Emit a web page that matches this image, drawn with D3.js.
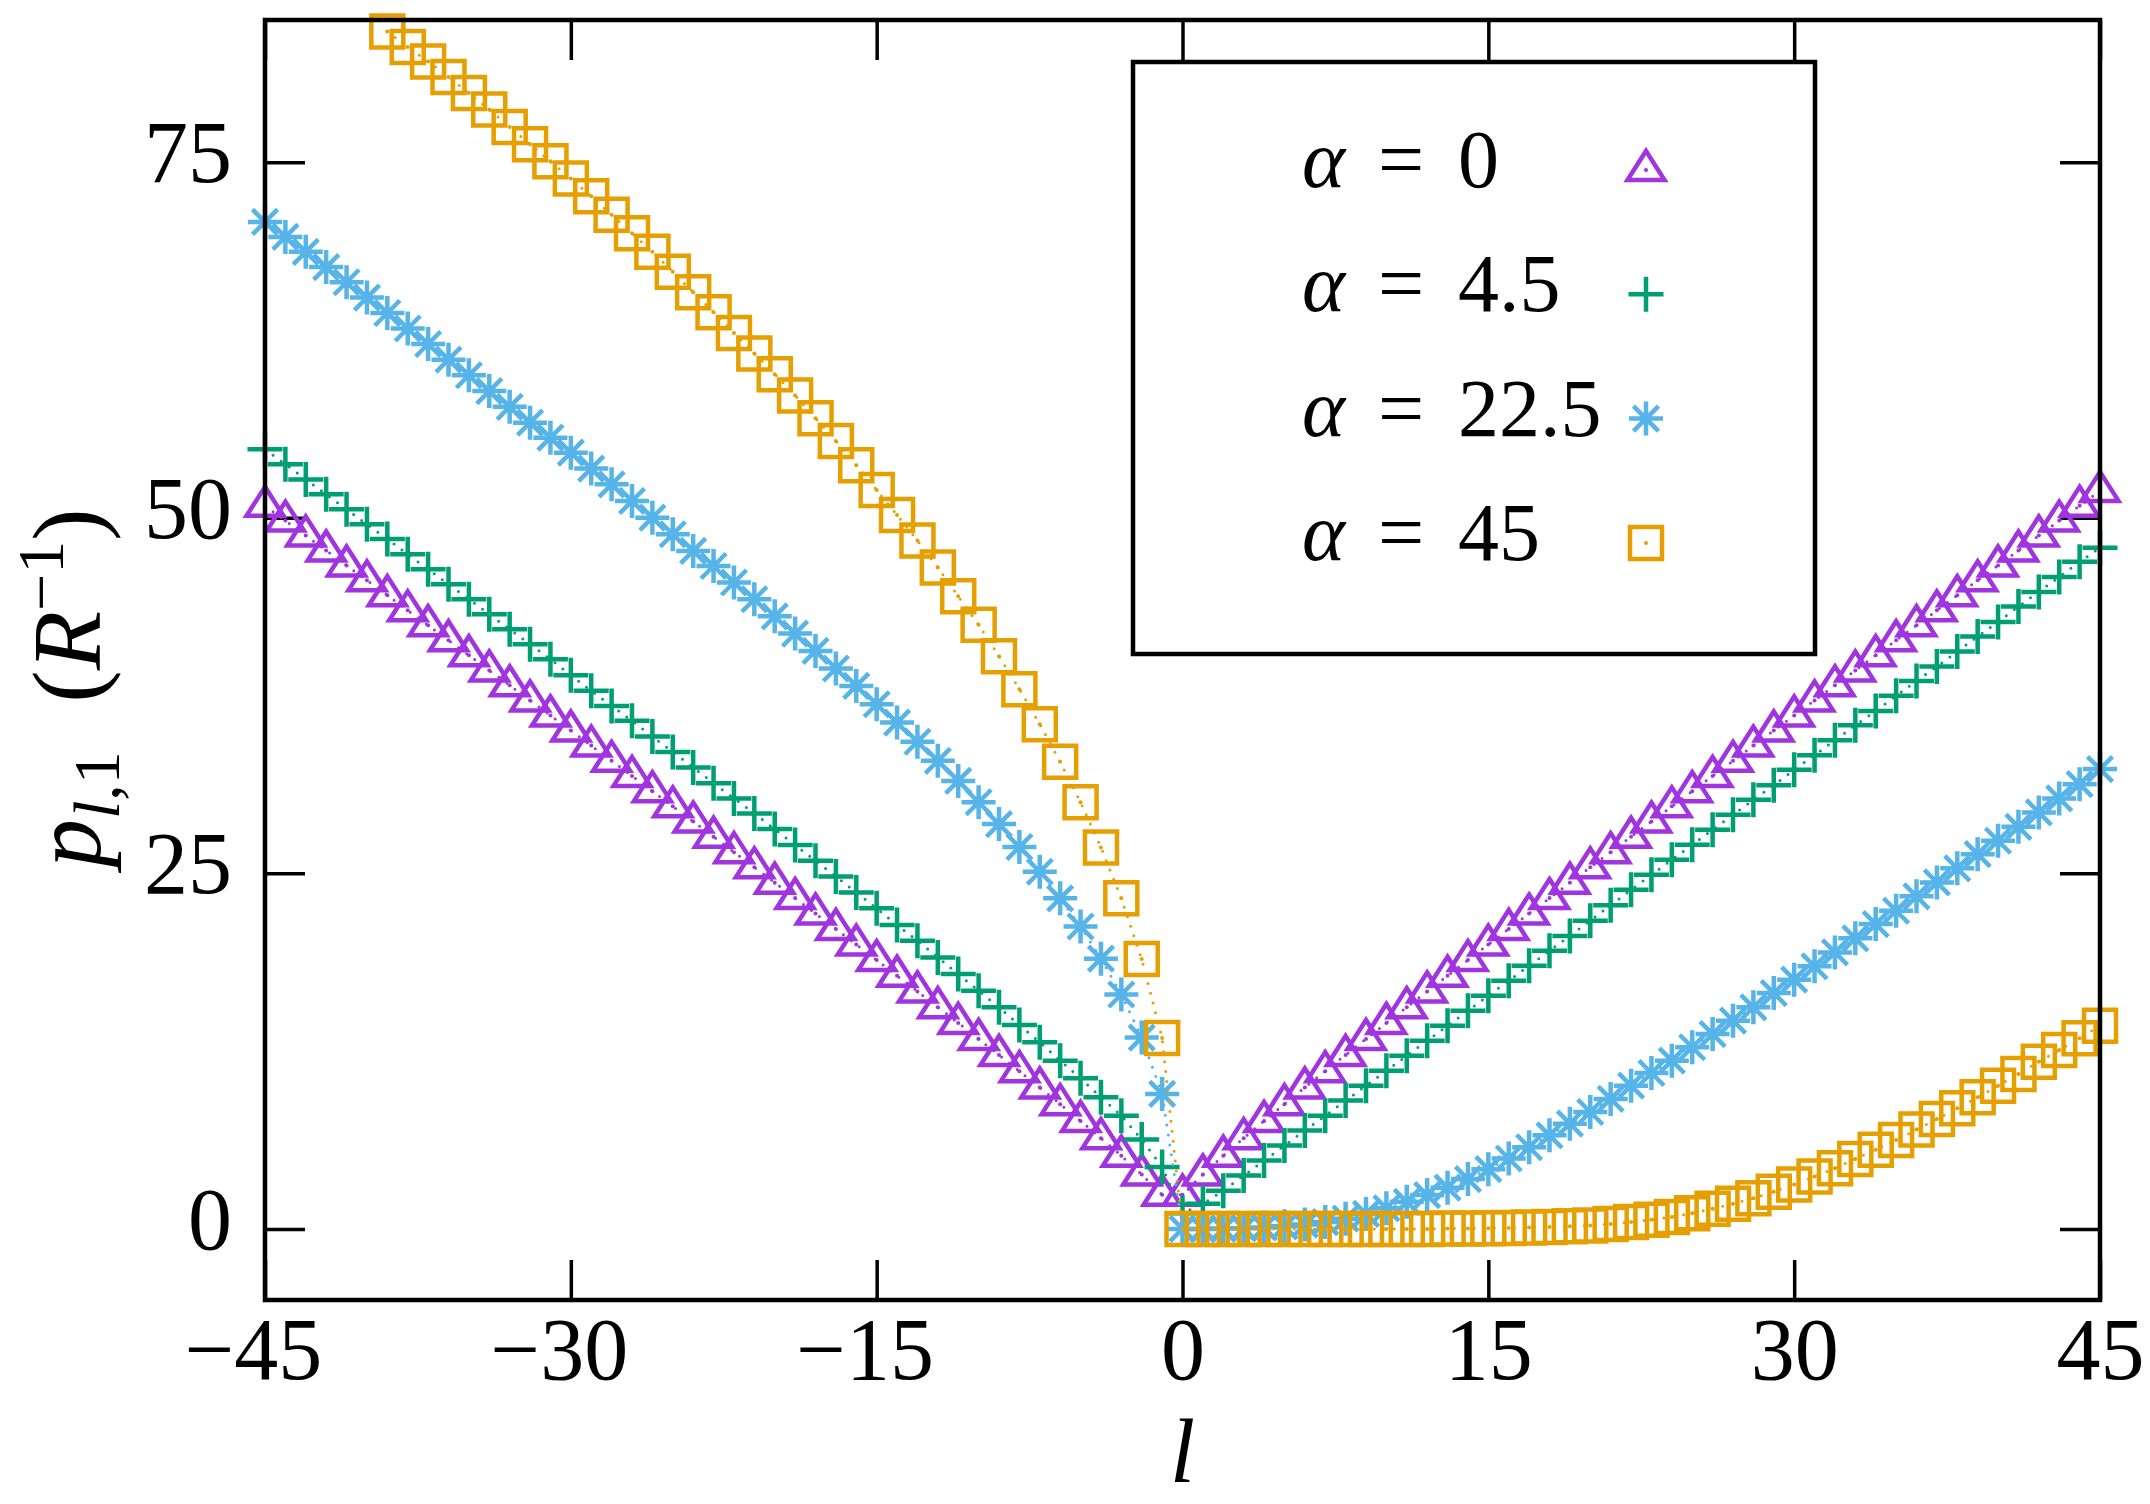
<!DOCTYPE html>
<html>
<head>
<meta charset="utf-8">
<script src="https://cdn.jsdelivr.net/npm/d3@7"></script>
<style>
  body { margin: 0; background: #fff; }
  svg { display: block; }
</style>
</head>
<body>
<div id="chart"></div>
<script>
// azimuthal number l (x axis)
const ells = [
  -45, -44, -43, -42, -41, -40, -39, -38, -37, -36, -35, -34, -33, -32, -31, -30,
  -29, -28, -27, -26, -25, -24, -23, -22, -21, -20, -19, -18, -17, -16, -15, -14,
  -13, -12, -11, -10, -9, -8, -7, -6, -5, -4, -3, -2, -1,
  0, 1, 2, 3, 4, 5, 6, 7, 8, 9, 10, 11, 12, 13, 14, 15, 16, 17, 18, 19, 20, 21, 22,
  23, 24, 25, 26, 27, 28, 29, 30, 31, 32, 33, 34, 35, 36, 37, 38, 39, 40, 41, 42,
  43, 44, 45
];

// p_{l,1} in units of 1/R (one value per l above)
const pAlpha0 = [
  50.84, 49.80, 48.75, 47.70, 46.65, 45.60, 44.55, 43.49, 42.44, 41.39, 40.33, 39.27,
  38.22, 37.16, 36.10, 35.04, 33.98, 32.91, 31.85, 30.78, 29.71, 28.64, 27.57, 26.49,
  25.42, 24.34, 23.26, 22.17, 21.09, 19.99, 18.90, 17.80, 16.70, 15.59, 14.48, 13.35,
  12.23, 11.09, 9.94, 8.77, 7.59, 6.38, 5.14, 3.83, 2.40,
  2.40, 3.83, 5.14, 6.38, 7.59, 8.77, 9.94, 11.09, 12.23, 13.35, 14.48, 15.59, 16.70,
  17.80, 18.90, 19.99, 21.09, 22.17, 23.26, 24.34, 25.42, 26.49, 27.57, 28.64, 29.71,
  30.78, 31.85, 32.91, 33.98, 35.04, 36.10, 37.16, 38.22, 39.27, 40.33, 41.39, 42.44,
  43.49, 44.55, 45.60, 46.65, 47.70, 48.75, 49.80, 50.84, 51.89
];

const pAlpha4_5 = [
  54.81, 53.76, 52.70, 51.65, 50.60, 49.54, 48.50, 47.43, 46.38, 45.33, 44.27, 43.22,
  42.16, 41.11, 40.06, 38.93, 37.83, 36.77, 35.72, 34.62, 33.54, 32.44, 31.34,
  30.27, 29.21, 28.11, 26.99, 25.88, 24.78, 23.66, 22.54, 21.36, 20.26, 19.09, 17.92,
  16.75, 15.58, 14.34, 13.12, 11.83, 10.59, 9.26, 7.96, 6.28, 4.35,
  1.10, 1.76, 2.69, 3.75, 4.80, 5.86, 6.91, 7.96, 9.02, 10.07, 11.12, 12.18, 13.23,
  14.29, 15.34, 16.40, 17.45, 18.50, 19.56, 20.60, 21.67, 22.75, 23.84, 24.90, 25.95,
  27.01, 28.06, 29.12, 30.17, 31.20, 32.28, 33.31, 34.36, 35.42, 36.42, 37.48, 38.53,
  39.54, 40.60, 41.65, 42.68, 43.76, 44.79, 45.84, 46.90, 47.90
];

const pAlpha22_5 = [
  70.80, 69.75, 68.70, 67.63, 66.56, 65.48, 64.40, 63.31, 62.22, 61.12, 60.02, 58.91,
  57.80, 56.69, 55.63, 54.58, 53.46, 52.35, 51.18, 50.01, 48.84, 47.67, 46.61, 45.45,
  44.27, 43.07, 41.86, 40.64, 39.40, 38.18, 36.89, 35.60, 34.25, 32.91, 31.50, 30.00,
  28.46, 26.85, 25.11, 23.24, 21.26, 19.00, 16.48, 13.45, 9.49,
  0.00, 0.00, 0.02, 0.05, 0.10, 0.18, 0.30, 0.48, 0.72, 1.05, 1.45, 1.90, 2.38, 2.90,
  3.50, 4.20, 4.95, 5.74, 6.58, 7.40, 8.22, 9.14, 10.07, 10.96, 11.83, 12.77, 13.70,
  14.64, 15.58, 16.58, 17.52, 18.46, 19.44, 20.43, 21.43, 22.37, 23.38, 24.36, 25.35,
  26.35, 27.29, 28.27, 29.28, 30.27, 31.27, 32.33
];

// l = -45 .. -40 lie above the top of the frame
const pAlpha45 = [
  null, null, null, null, null, null,
  84.20, 83.10, 82.08, 81.00, 79.86, 78.70, 77.48, 76.27, 75.06, 73.85, 72.60, 71.30,
  70.00, 68.70, 67.30, 65.86, 64.45, 63.00, 61.55, 60.10, 58.60, 57.00, 55.40, 53.70,
  51.95, 50.20, 48.40, 46.50, 44.48, 42.47, 40.26, 37.95, 35.49, 32.84, 30.00, 26.82,
  23.24, 18.97, 13.42,
  0.00, 0.00, 0.00, 0.00, 0.00, 0.00, 0.00, 0.00, 0.00, 0.00, 0.00, 0.00, 0.00, 0.02,
  0.03, 0.05, 0.07, 0.10, 0.13, 0.18, 0.24, 0.34, 0.48, 0.64, 0.84, 1.10, 1.41, 1.76,
  2.16, 2.62, 3.12, 3.68, 4.27, 4.92, 5.57, 6.25, 6.98, 7.73, 8.48, 9.25, 10.07, 10.89,
  11.76, 12.58, 13.40, 14.29
];

const alphaLabels = ["0", "4.5", "22.5", "45"];
const xTicks = [-45, -30, -15, 0, 15, 30, 45];
const yTicks = [0, 25, 50, 75];

const width = 2150;
const height = 1504;
const frame = { left: 265, right: 2100, top: 20, bottom: 1300 };
const serif = '"Liberation Serif", "Times New Roman", Times, "Noto Serif", "DejaVu Serif", serif';

const x = d3.scaleLinear().domain([-45, 45]).range([frame.left, frame.right]);
const y = d3.scaleLinear().domain([-5, 85]).range([frame.bottom, frame.top]);

// marker outlines, centred on the data point
const shapes = {
  triangle: "M0,-19L18.5,10L-18.5,10Z",
  plus: "M-17.5,0H17.5M0,-17.5V17.5",
  star: "M-17,0H17M0,-17V17M-12.5,-12.5L12.5,12.5M-12.5,12.5L12.5,-12.5",
  square: "M-16,-16H16V16H-16Z",
};

const series = [
  { values: pAlpha0, color: "#a035e0", shape: "triangle" },
  { values: pAlpha4_5, color: "#009e73", shape: "plus" },
  { values: pAlpha22_5, color: "#56b4e9", shape: "star" },
  { values: pAlpha45, color: "#e69f00", shape: "square" },
];

const svg = d3
  .select("#chart")
  .append("svg")
  .attr("width", width)
  .attr("height", height)
  .attr("font-family", serif);

svg.append("rect").attr("width", width).attr("height", height).attr("fill", "#fff");

// Axes: ticks point inward and are mirrored on top and right
const tickLen = 40;
const axisStyle = (g) => {
  g.attr("font-family", serif).attr("font-size", 88);
  g.select(".domain").remove();
  g.selectAll(".tick line").attr("stroke", "#000").attr("stroke-width", 3.5);
  g.selectAll(".tick text").attr("fill", "#000");
};

svg
  .append("g")
  .attr("transform", `translate(0,${frame.bottom})`)
  .call(d3.axisBottom(x).tickValues(xTicks).tickSize(-tickLen).tickPadding(17).tickFormat(d3.format("d")))
  .call(axisStyle)
  .call((g) => g.selectAll(".tick text").attr("dx", (d) => (d < 0 ? -12 : 0)));

svg
  .append("g")
  .attr("transform", `translate(0,${frame.top})`)
  .call(d3.axisTop(x).tickValues(xTicks).tickSize(-tickLen).tickFormat(""))
  .call(axisStyle);

svg
  .append("g")
  .attr("transform", `translate(${frame.left},0)`)
  .call(d3.axisLeft(y).tickValues(yTicks).tickSize(-tickLen).tickPadding(33))
  .call(axisStyle)
  .call((g) => g.selectAll(".tick text").attr("dy", "0.22em"));

svg
  .append("g")
  .attr("transform", `translate(${frame.right},0)`)
  .call(d3.axisRight(y).tickValues(yTicks).tickSize(-tickLen).tickFormat(""))
  .call(axisStyle);

// Data: dotted connecting line, open markers, and a small dot at each point
const line = d3
  .line()
  .defined((d) => d[1] !== null)
  .x((d) => x(d[0]))
  .y((d) => y(d[1]));

series.forEach((s) => {
  const pts = ells.map((l, i) => [l, s.values[i]]);
  const shown = pts.filter((d) => d[1] !== null && d[1] <= 85);

  svg
    .append("path")
    .datum(pts)
    .attr("d", line)
    .attr("fill", "none")
    .attr("stroke", s.color)
    .attr("stroke-width", 3)
    .attr("stroke-linecap", "round")
    .attr("stroke-dasharray", "0 10");

  const g = svg.append("g");
  g.selectAll("path")
    .data(shown)
    .enter()
    .append("path")
    .attr("transform", (d) => `translate(${x(d[0])},${y(d[1])})`)
    .attr("d", shapes[s.shape])
    .attr("fill", "none")
    .attr("stroke", s.color)
    .attr("stroke-width", 4.5);

  g.selectAll("circle")
    .data(shown)
    .enter()
    .append("circle")
    .attr("cx", (d) => x(d[0]))
    .attr("cy", (d) => y(d[1]))
    .attr("r", 2)
    .attr("fill", s.color);
});

// Frame
svg
  .append("rect")
  .attr("x", frame.left)
  .attr("y", frame.top)
  .attr("width", frame.right - frame.left)
  .attr("height", frame.bottom - frame.top)
  .attr("fill", "none")
  .attr("stroke", "#000")
  .attr("stroke-width", 4.5);

// Legend box, text left-justified with math spacing around "="
const legend = svg.append("g").attr("font-size", 82);
legend
  .append("rect")
  .attr("x", 1133)
  .attr("y", 62)
  .attr("width", 682)
  .attr("height", 592)
  .attr("fill", "#fff")
  .attr("stroke", "#000")
  .attr("stroke-width", 4.5);

series.forEach((s, i) => {
  const base = 187 + i * 124.3;
  legend.append("text").attr("x", 1302).attr("y", base).style("font-style", "italic").text("α");
  legend.append("text").attr("x", 1378).attr("y", base).text("=");
  legend.append("text").attr("x", 1458).attr("y", base).text(alphaLabels[i]);

  legend
    .append("path")
    .attr("transform", `translate(1646,${base - 17})`)
    .attr("d", shapes[s.shape])
    .attr("fill", "none")
    .attr("stroke", s.color)
    .attr("stroke-width", 4.5);
  legend
    .append("circle")
    .attr("cx", 1646)
    .attr("cy", base - 17)
    .attr("r", 2)
    .attr("fill", s.color);
});

// Axis titles
svg
  .append("text")
  .attr("x", x(0))
  .attr("y", 1482)
  .attr("text-anchor", "middle")
  .style("font-size", "90px")
  .style("font-style", "italic")
  .text("l");

const yTitle = svg
  .append("text")
  .attr("transform", "translate(100,688) rotate(-90)")
  .attr("text-anchor", "middle")
  .style("font-size", "97px");
yTitle.append("tspan").style("font-style", "italic").text("p");
yTitle.append("tspan").attr("dy", 19).style("font-size", "66px").style("font-style", "italic").text("l");
yTitle.append("tspan").style("font-size", "66px").text(",1");
yTitle.append("tspan").attr("dy", -19).text("\u2002(");
yTitle.append("tspan").style("font-style", "italic").text("R");
yTitle.append("tspan").attr("dy", -37).style("font-size", "66px").text("\u22121");
yTitle.append("tspan").attr("dy", 37).text(")");
</script>
</body>
</html>
